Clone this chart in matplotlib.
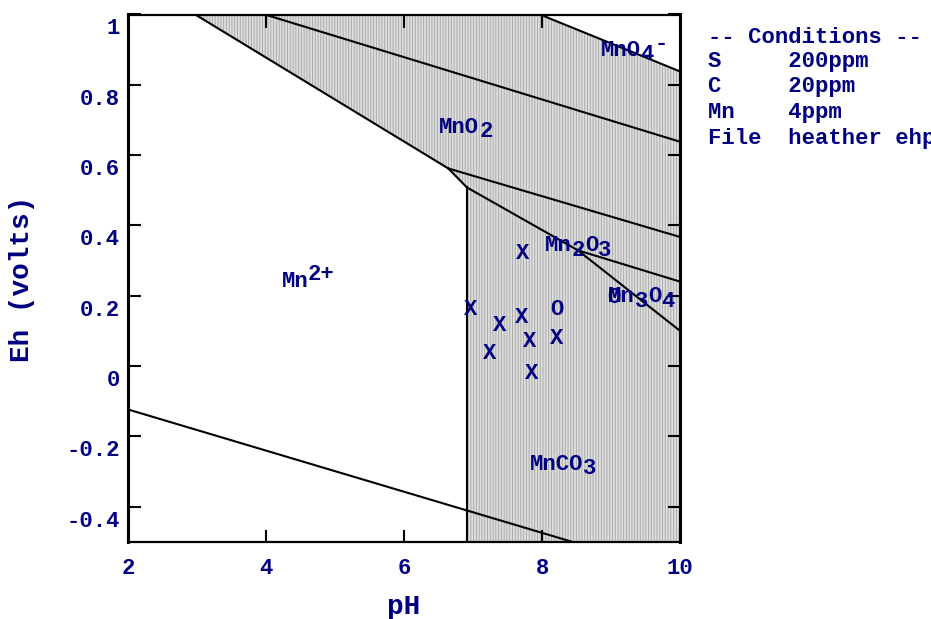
import matplotlib
matplotlib.use("Agg")
import matplotlib.pyplot as plt
from matplotlib.transforms import ScaledTranslation

navy = "#000080"
FS = 16
plt.rcParams["font.family"] = ["Liberation Mono", "DejaVu Sans Mono"]
plt.rcParams["font.weight"] = "bold"
plt.rcParams["hatch.linewidth"] = 0.7

# field boundaries, end points as (pH, Eh)
mn2_mno2_ph = [2.97, 6.64]
mn2_mno2_eh = [1.00, 0.562]
mn2_mnco3_ph = [6.64, 6.91]
mn2_mnco3_eh = [0.562, 0.508]
mnco3_edge_ph = [6.91, 6.91]
mnco3_edge_eh = [0.508, -0.50]
mno2_mn2o3_ph = [6.64, 10.0]
mno2_mn2o3_eh = [0.562, 0.367]
mnco3_mn2o3_ph = [6.91, 8.52]
mnco3_mn2o3_eh = [0.508, 0.329]
mn2o3_mn3o4_ph = [8.52, 10.0]
mn2o3_mn3o4_eh = [0.329, 0.240]
mnco3_mn3o4_ph = [8.52, 10.0]
mnco3_mn3o4_eh = [0.329, 0.100]
mno4_mno2_ph = [7.97, 10.0]
mno4_mno2_eh = [1.00, 0.838]
# water stability limits
o2_h2o_ph = [3.98, 10.0]
o2_h2o_eh = [1.00, 0.638]
h2o_h2_ph = [2.0, 8.43]
h2o_h2_eh = [-0.124, -0.50]

# sample points
x_ph = [7.72, 6.96, 7.39, 7.71, 7.82, 8.21, 7.24, 7.85]
x_eh = [0.321, 0.162, 0.114, 0.138, 0.069, 0.078, 0.035, -0.022]
o_ph = [8.21, 9.04]
o_eh = [0.160, 0.194]

# species labels: anchor (pH, Eh) and text pieces with shift (0 base, -1 sub, 1 sup)
field_labels = [
    (4.22, 0.224, [("Mn", 0), ("2+", 1)]),
    (6.51, 0.662, [("MnO", 0), ("2", -1)]),
    (8.85, 0.883, [("MnO", 0), ("4", -1), ("-", 1)]),
    (8.04, 0.326, [("Mn", 0), ("2", -1), ("O", 0), ("3", -1)]),
    (8.96, 0.181, [("Mn", 0), ("3", -1), ("O", 0), ("4", -1)]),
    (7.82, -0.295, [("MnCO", 0), ("3", -1)]),
]

x_ticks = [2, 4, 6, 8, 10]
x_labels = ["2", "4", "6", "8", "10"]
y_ticks = [-0.4, -0.2, 0, 0.2, 0.4, 0.6, 0.8, 1.0]
y_labels = ["-0.4", "-0.2", "0", "0.2", "0.4", "0.6", "0.8", "1"]

cond_keys = ["S", "C", "Mn", "File"]
cond_vals = ["200ppm", "20ppm", "4ppm", "heather ehp"]

fig = plt.figure(figsize=(9.31, 6.19), dpi=100)
ax = fig.add_axes([128.3 / 931, 77.3 / 619, 551.7 / 931, 527.2 / 619])
ax.set_xlim(2, 10)
ax.set_ylim(-0.5, 1.0)

# shaded solid-phase region
poly_ph = [mn2_mno2_ph[0], mno4_mno2_ph[0], mno4_mno2_ph[1], 10.0,
           mnco3_edge_ph[1], mnco3_edge_ph[0], mn2_mno2_ph[1]]
poly_eh = [mn2_mno2_eh[0], mno4_mno2_eh[0], mno4_mno2_eh[1], -0.5,
           mnco3_edge_eh[1], mnco3_edge_eh[0], mn2_mno2_eh[1]]
ax.fill(poly_ph, poly_eh, facecolor="#dedede", edgecolor="none", zorder=1)
ax.fill(poly_ph, poly_eh, facecolor="none", edgecolor="#ababab",
        hatch="||||||", linewidth=0, zorder=1)

segments = [
    (mn2_mno2_ph, mn2_mno2_eh), (mn2_mnco3_ph, mn2_mnco3_eh),
    (mnco3_edge_ph, mnco3_edge_eh), (mno2_mn2o3_ph, mno2_mn2o3_eh),
    (mnco3_mn2o3_ph, mnco3_mn2o3_eh), (mn2o3_mn3o4_ph, mn2o3_mn3o4_eh),
    (mnco3_mn3o4_ph, mnco3_mn3o4_eh), (mno4_mno2_ph, mno4_mno2_eh),
    (o2_h2o_ph, o2_h2o_eh), (h2o_h2_ph, h2o_h2_eh),
]
for px, py in segments:
    ax.plot(px, py, color="black", lw=1.5, zorder=2)

for px, py in zip(x_ph, x_eh):
    ax.text(px, py, "X", ha="center", va="center", color=navy, fontsize=FS, zorder=3)
for px, py in zip(o_ph, o_eh):
    ax.text(px, py, "O", ha="center", va="center", color=navy, fontsize=FS, zorder=3)

shift_pts = {0: 0, -1: -3, 1: 5}
for ph, eh, parts in field_labels:
    n = 0
    for s, sh in parts:
        ax.annotate(s, (ph, eh), xytext=(n * 0.6 * FS, shift_pts[sh]),
                    textcoords="offset points", ha="left", va="baseline",
                    color=navy, fontsize=FS, zorder=4)
        n += len(s)

ax.set_xticks(x_ticks, x_labels)
ax.set_yticks(y_ticks, y_labels)
ax.tick_params(direction="in", top=True, right=True, length=9, width=1.5,
               labelsize=FS, labelcolor=navy)
ax.tick_params(axis="x", pad=12)
ax.tick_params(axis="y", pad=6)
shift = ScaledTranslation(0, -12 / 100, fig.dpi_scale_trans)
for lbl in ax.get_yticklabels():
    lbl.set_transform(lbl.get_transform() + shift)

ax.spines["left"].set_linewidth(2.2)
ax.spines["right"].set_linewidth(2.2)
ax.spines["top"].set_linewidth(1.6)
ax.spines["bottom"].set_linewidth(1.6)

fig.text(404 / 931, 5 / 619, "pH", ha="center", va="baseline",
         color=navy, fontsize=20)
fig.text(22 / 931, 1 - 279 / 619, "Eh (volts)", ha="center", va="center",
         rotation=90, color=navy, fontsize=20)

fig.text(708 / 931, 1 - 42.7 / 619, "-- Conditions --", ha="left",
         va="baseline", color=navy, fontsize=FS)
for i, (k, v) in enumerate(zip(cond_keys, cond_vals)):
    fig.text(708 / 931, 1 - (66.7 + 25.6 * i) / 619, f"{k:<6}{v}",
             ha="left", va="baseline", color=navy, fontsize=FS)

fig.savefig("out.png", dpi=100)
